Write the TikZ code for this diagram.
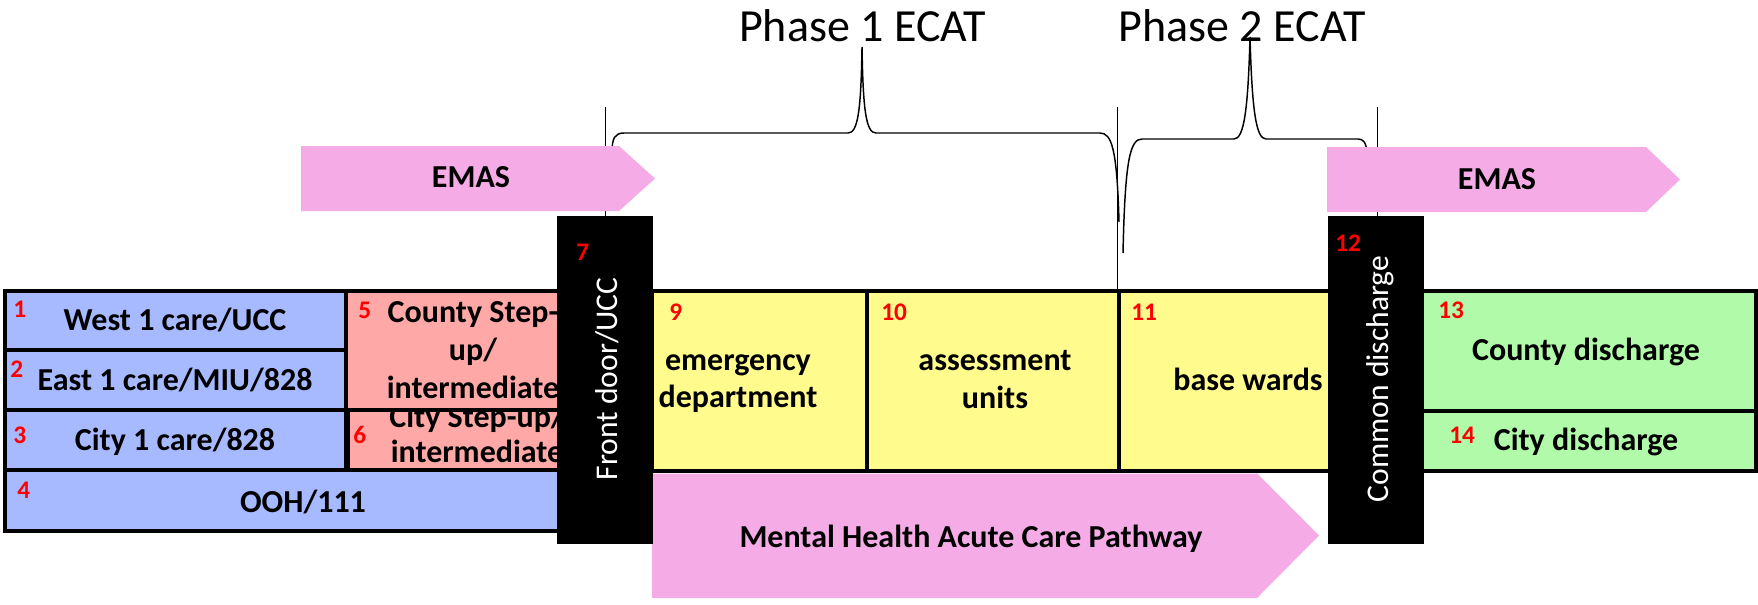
\documentclass[tikz,border=0pt]{standalone}
\usepackage{fontspec}
\setmainfont{Carlito}
\definecolor{cblue}{HTML}{A8BAFF}
\definecolor{cpink}{HTML}{FFA8A8}
\definecolor{cyel}{HTML}{FFFB8C}
\definecolor{cgreen}{HTML}{B0FAAA}
\definecolor{cmag}{HTML}{F5ACE6}
\begin{document}
\begin{tikzpicture}[x=0.75pt,y=-0.75pt,
  wh/.style 2 args={minimum width=#1*0.75pt, minimum height=#2*0.75pt},
  box/.style={draw=black, line width=3pt, inner sep=0pt, outer sep=0pt, anchor=north west},
  bar/.style={fill=black, inner sep=0pt, outer sep=0pt, anchor=north west},
  lab/.style={font=\fontsize{24}{28.5}\selectfont\bfseries, inner sep=0pt, anchor=base, align=center},
  num/.style={font=\fontsize{19}{21}\selectfont\bfseries, text=red, inner sep=0pt, anchor=base west},
  vlab/.style={font=\fontsize{23.7}{28}\selectfont, text=white, inner sep=0pt, anchor=base, rotate=90},
  phase/.style={font=\fontsize{34.5}{40}\selectfont, inner sep=0pt, anchor=base},
  brace/.style={draw=black, line width=1.1pt},
  vline/.style={draw=black, line width=1.1pt}
]
\useasboundingbox (0,0) rectangle (1758,604);

% phase labels
\node[phase] (ph1) at (862.5,41) {Phase 1 ECAT};
\node[phase] (ph2) at (1242,41) {Phase 2 ECAT};

% braces
\draw[brace] (612,152) .. controls (612,138) and (615,133) .. (624,133)
  -- (848,133) .. controls (858,133) and (861,110) .. (862,47)
  .. controls (863,110) and (866,133) .. (876,133)
  -- (1100,133) .. controls (1112,133) and (1117,150) .. (1119,222);
\draw[brace] (1123,253) .. controls (1125,160) and (1130,139) .. (1142,139)
  -- (1234,139) .. controls (1244,139) and (1248,110) .. (1250,37)
  .. controls (1252,110) and (1256,139) .. (1266,139)
  -- (1358,139) .. controls (1363,139) and (1366,142) .. (1367,152);

% boxes
\node[box, fill=cblue, wh={341}{59}] (b1) at (4.5,290.5) {};
\node[box, fill=cblue, wh={341}{60.5}] (b2) at (4.5,349.5) {};
\node[box, fill=cblue, wh={341}{60}] (b3) at (4.5,410) {};
\node[box, fill=cblue, wh={555.5}{60.5}] (b4) at (4.5,470) {};
\node[box, fill=cpink, wh={214.5}{119.5}] (b5) at (345.5,290.5) {};
\node[box, fill=cpink, wh={212}{60}] (b6) at (348,410) {};
\node[box, fill=cyel, wh={215}{180}] (b9) at (652,290.5) {};
\node[box, fill=cyel, wh={252}{180}] (b10) at (867,290.5) {};
\node[box, fill=cyel, wh={211}{180}] (b11) at (1119,290.5) {};
\node[box, fill=cgreen, wh={333.5}{120}] (b13) at (1422,290.5) {};
\node[box, fill=cgreen, wh={333.5}{60}] (b14) at (1422,410.5) {};

% vertical lines
\coordinate (v1) at (605.6,107);
\coordinate (v2) at (1117.5,107);
\coordinate (v3) at (1377.6,107);
\draw[vline] (v1) -- (605.6,217);
\draw[vline] (v2) -- (v2 |- b11.north);
\draw[vline] (v3) -- (1377.6,217);

% EMAS arrows
\fill[cmag] (301,146) -- (619,146) -- (655,178.5) -- (619,211) -- (301,211) -- cycle;
\node[lab] (emas1) at (471,187) {EMAS};
\fill[cmag] (1327,147) -- (1646,147) -- (1680,179.5) -- (1646,212) -- (1327,212) -- cycle;
\node[lab] (emas2) at (1497,189) {EMAS};

% Mental health arrow
\fill[cmag] (652,473.5) -- (1257,473.5) -- (1319,535.5) -- (1257,598) -- (652,598) -- cycle;
\node[lab] (mh) at (971,547) {Mental Health Acute Care Pathway};

% texts
\node[lab] (t1) at (175,330) {West 1 care/UCC};
\node[lab] (t2) at (175,390) {East 1 care/MIU/828};
\node[lab] (t3) at (175,450) {City 1 care/828};
\node[lab] (t4) at (303,512) {OOH/111};
\node[lab, font=\fontsize{24}{28.5}\selectfont\bfseries] (t5) at (473,398) {County Step-\\up/\\intermediate};
\begin{scope}
\clip (349.5,411.5) rectangle (558,468.5);
\node[lab, font=\fontsize{24}{26.25}\selectfont\bfseries] (t6) at (477,462) {City Step-up/\\intermediate};
\end{scope}
\node[lab, font=\fontsize{24}{27.75}\selectfont\bfseries] (t9) at (738,407) {emergency\\department};
\node[lab, font=\fontsize{24}{28.5}\selectfont\bfseries] (t10) at (995,408) {assessment\\units};
\node[lab] (t11) at (1248,390) {base wards};
\node[lab] (t13) at (1586,360) {County discharge};
\node[lab] (t14) at (1586,450) {City discharge};

% black bars
\node[bar, wh={96}{328}] (bar7) at (557,216) {};
\node[bar, wh={96}{328}] (bar12) at (1328,216) {};
\node[vlab] (fd) at (617,379) {Front door/UCC};
\node[vlab] (cd) at (1388,379) {Common discharge};

% numbers
\node[num] (n1) at (13,317) {1};
\node[num] (n2) at (10,377) {2};
\node[num] (n3) at (13,443) {3};
\node[num] (n4) at (17,498) {4};
\node[num] (n5) at (358,318) {5};
\node[num] (n6) at (353,443) {6};
\node[num] (n7) at (576,260) {7};
\node[num] (n9) at (669,320) {9};
\node[num] (n10) at (881,320) {10};
\node[num] (n11) at (1131,320) {11};
\node[num] (n12) at (1335,251) {12};
\node[num] (n13) at (1438,318) {13};
\node[num] (n14) at (1449,443) {14};
\end{tikzpicture}
\end{document}
